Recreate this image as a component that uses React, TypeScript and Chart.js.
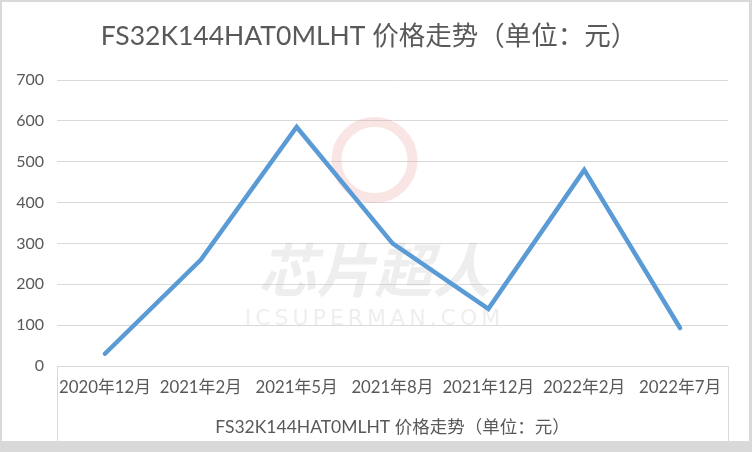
import React, { useEffect, useRef } from "react";
import { Chart, registerables } from "chart.js";

Chart.register(...registerables);

const categories = ["2020年12月", "2021年2月", "2021年5月", "2021年8月", "2021年12月", "2022年2月", "2022年7月"];
const prices = [30, 260, 585, 300, 140, 480, 93];
const titleText = "FS32K144HAT0MLHT 价格走势（单位：元）";
const yMin = 0;
const yMax = 700;
const yStep = 100;

const FONT = "Lato, 'Noto Sans CJK SC', sans-serif";
const TEXT = "#595959";
const GRID = "#d9d9d9";

const framePlugin = {
  id: "frame",
  beforeDraw(chart: any) {
    const { ctx, width, height } = chart;
    ctx.save();
    ctx.fillStyle = "#ffffff";
    ctx.fillRect(0, 0, width, height);
    ctx.restore();
  },
  beforeDatasetsDraw(chart: any) {
    const { ctx, chartArea } = chart;
    const cx = (chartArea.left + chartArea.right) / 2 - 18;
    const h = chartArea.bottom - chartArea.top;
    ctx.save();
    ctx.strokeStyle = "rgba(235,150,150,0.25)";
    ctx.lineWidth = 10;
    ctx.beginPath();
    ctx.arc(cx, chartArea.top + h * 0.28, 38, 0, Math.PI * 2);
    ctx.stroke();
    ctx.fillStyle = "rgba(200,200,200,0.3)";
    ctx.textAlign = "center";
    ctx.textBaseline = "middle";
    ctx.font = "italic bold 58px 'Noto Sans CJK SC'";
    ctx.fillText("芯片超人", cx, chartArea.top + h * 0.665);
    ctx.font = "22px 'DejaVu Sans'";
    (ctx as any).letterSpacing = "4px";
    ctx.fillText("ICSUPERMAN.COM", cx, chartArea.top + h * 0.835);
    ctx.restore();
  },
  afterDraw(chart: any) {
    const { ctx, chartArea, width, height } = chart;
    ctx.save();
    ctx.strokeStyle = GRID;
    ctx.lineWidth = 1;
    ctx.beginPath();
    ctx.moveTo(Math.round(chartArea.left) + 0.5, chartArea.bottom);
    ctx.lineTo(Math.round(chartArea.left) + 0.5, height - 11);
    ctx.moveTo(Math.round(chartArea.right) + 0.5, chartArea.bottom);
    ctx.lineTo(Math.round(chartArea.right) + 0.5, height - 11);
    ctx.stroke();
    ctx.fillStyle = GRID;
    ctx.fillRect(0, 0, width, 2);
    ctx.fillRect(0, 0, 2, height);
    ctx.fillRect(width - 3, 0, 3, height);
    ctx.fillRect(0, height - 11, width, 11);
    ctx.restore();
  },
};

export default function App() {
  const ref = useRef<HTMLCanvasElement | null>(null);

  useEffect(() => {
    document.body.style.margin = "0";
    if (!ref.current) return;
    const chart = new Chart(ref.current, {
      type: "line",
      data: {
        labels: categories,
        datasets: [
          {
            label: titleText,
            data: prices,
            borderColor: "#5B9BD5",
            backgroundColor: "#5B9BD5",
            borderWidth: 4.5,
            pointRadius: 0,
            pointHoverRadius: 0,
            tension: 0,
            borderCapStyle: "round",
            borderJoinStyle: "miter",
          },
        ],
      },
      options: {
        responsive: false,
        animation: false,
        maintainAspectRatio: false,
        layout: { padding: { left: 10, right: 24, top: 0, bottom: 0 } },
        plugins: {
          legend: { display: false },
          tooltip: { enabled: false },
          title: {
            display: true,
            text: titleText,
            color: TEXT,
            font: { family: FONT, size: 26.5, weight: "normal", lineHeight: 1.2 },
            padding: { top: 20.1, bottom: 28.1 },
          },
        },
        scales: {
          x: {
            offset: true,
            grid: { display: false, drawTicks: false },
            border: { display: true, color: GRID, width: 1 },
            ticks: {
              color: TEXT,
              font: { family: FONT, size: 16.8, lineHeight: 1.2 },
              padding: 11.9,
              autoSkip: false,
              maxRotation: 0,
              minRotation: 0,
            },
            title: {
              display: true,
              text: titleText,
              color: TEXT,
              font: { family: FONT, size: 17.5, lineHeight: 1.2 },
              padding: { top: 4, bottom: 14.5 },
            },
            afterFit(scale: any) {
              scale.height = 86;
            },
          },
          y: {
            min: yMin,
            max: yMax,
            grid: { color: GRID, lineWidth: 1, drawTicks: false },
            border: { display: false },
            ticks: {
              stepSize: yStep,
              color: TEXT,
              font: { family: FONT, size: 16, lineHeight: 1.2 },
              padding: 13,
            },
            afterFit(scale: any) {
              scale.width = 47;
            },
          },
        },
      },
      plugins: [framePlugin],
    });
    return () => chart.destroy();
  }, []);

  return (
    <div style={{ width: 752, height: 452 }}>
      <canvas ref={ref} width={752} height={452} style={{ display: "block", width: 752, height: 452 }} />
    </div>
  );
}
